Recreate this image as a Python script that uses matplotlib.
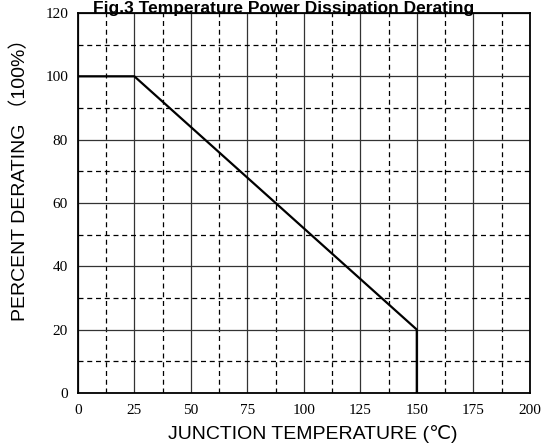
import matplotlib
matplotlib.use("Agg")
import matplotlib.pyplot as plt
import numpy as np

# derating curve
temp = [0, 25, 150, 150]
derating = [100, 100, 20, 0]

x_major = [0, 25, 50, 75, 100, 125, 150, 175, 200]
y_major = [0, 20, 40, 60, 80, 100, 120]

fig = plt.figure(figsize=(5.6, 4.48), dpi=100)
ax = fig.add_axes([0.139, 0.123, 0.807, 0.848])

ax.set_xlim(0, 200)
ax.set_ylim(0, 120)
ax.set_xticks(x_major)
ax.set_yticks(y_major)
ax.set_xticks(np.arange(12.5, 200, 25), minor=True)
ax.set_yticks(np.arange(10, 120, 20), minor=True)

ax.grid(True, which="major", color="#333333", linestyle="-", linewidth=0.9)
ax.grid(True, which="minor", color="black", linestyle=(0, (4, 3)), linewidth=0.9)
ax.tick_params(which="both", length=0)
ax.tick_params(axis="x", pad=8)
ax.tick_params(axis="y", pad=7)
for lab in ax.get_xticklabels() + ax.get_yticklabels():
    lab.set_fontfamily("Liberation Serif")
    lab.set_fontsize(11)
for sp in ax.spines.values():
    sp.set_linewidth(1.3)
    sp.set_color("black")

ax.plot(temp, derating, color="black", linewidth=1.6, zorder=5)

sans = ["Liberation Sans", "DejaVu Sans"]
fig.text(0.507, 0.972, "Fig.3 Temperature Power Dissipation Derating",
         ha="center", va="baseline", fontsize=12.5, fontweight="bold", family=sans)
fig.text(0.559, 0.02, "JUNCTION TEMPERATURE (\u2103)", ha="center", va="baseline",
         fontsize=14, family=sans)
fig.text(0.036, 0.61, "PERCENT DERATING \uff08100%\uff09", ha="center", va="center",
         rotation=90, fontsize=14, family=["Liberation Sans", "Noto Sans CJK SC"])

fig.savefig("out.png", dpi=100)
